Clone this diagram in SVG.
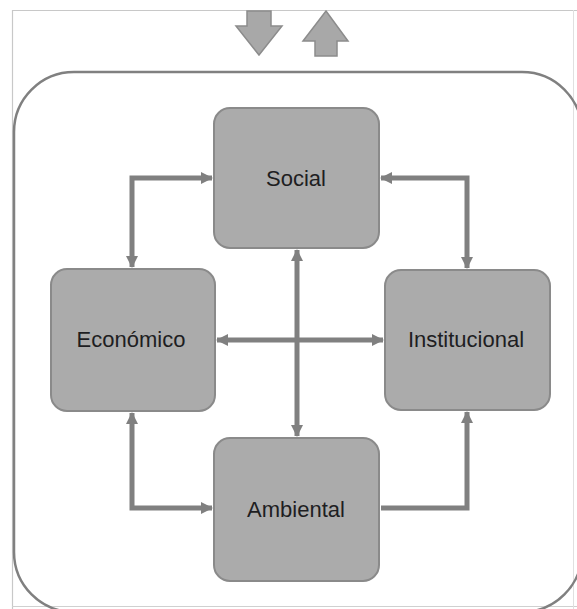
<svg xmlns="http://www.w3.org/2000/svg" width="577" height="609" viewBox="0 0 577 609">
<defs>
<style>
.node rect{fill:#ababab;stroke:#8a8a8a;stroke-width:2}
.node text{font-family:"Liberation Sans",Arial,sans-serif;font-size:22px;fill:#1e1e22;text-anchor:middle}
.conn path{fill:none;stroke:#808080;stroke-width:5}
.big{fill:#a8a8a8;stroke:#8c8c8c;stroke-width:1.5}
</style>
<marker id="ah" viewBox="0 0 12 12" refX="11" refY="6" markerWidth="12" markerHeight="12" markerUnits="userSpaceOnUse" orient="auto-start-reverse">
<path d="M0,0 L12,6 L0,12 Z" fill="#808080"/>
</marker>
</defs>
<rect x="0" y="0" width="577" height="609" fill="#ffffff"/>
<path d="M12.5,609 V10.5 H577" fill="none" stroke="#c8c8c8" stroke-width="1.2"/>
<line x1="12" y1="606.5" x2="577" y2="606.5" stroke="#d0d0d0" stroke-width="1.2"/>
<line x1="573.5" y1="10" x2="573.5" y2="609" stroke="#e0e0e0" stroke-width="1"/>
<g id="arrows-top">
<path class="big" d="M247,11 H271 V26 H282 L259,55 L236,26 H247 Z"/>
<path class="big" d="M326,11 L348,41 H337 V56 H315 V41 H303 Z"/>
</g>
<rect id="frame" x="14" y="72" width="568" height="540" rx="60" ry="60" fill="none" stroke="#808080" stroke-width="2.5"/>
<g class="conn">
<path d="M132,267 V178 H212" marker-start="url(#ah)" marker-end="url(#ah)"/>
<path d="M381,178 H467 V268" marker-start="url(#ah)" marker-end="url(#ah)"/>
<path d="M132,413 V508 H212" marker-start="url(#ah)" marker-end="url(#ah)"/>
<path d="M381,508 H467 V412" marker-end="url(#ah)"/>
<path d="M297,250 V436" marker-start="url(#ah)" marker-end="url(#ah)"/>
<path d="M217,340 H383" marker-start="url(#ah)" marker-end="url(#ah)"/>
</g>
<g id="social" class="node"><rect x="214" y="108" width="165" height="140" rx="16"/><text x="296" y="186">Social</text></g>
<g id="economico" class="node"><rect x="51" y="269" width="164" height="142" rx="16"/><text x="131" y="347">Económico</text></g>
<g id="institucional" class="node"><rect x="385" y="270" width="165" height="140" rx="16"/><text x="466" y="347">Institucional</text></g>
<g id="ambiental" class="node"><rect x="214" y="438" width="165" height="143" rx="16"/><text x="296" y="517">Ambiental</text></g>
</svg>
